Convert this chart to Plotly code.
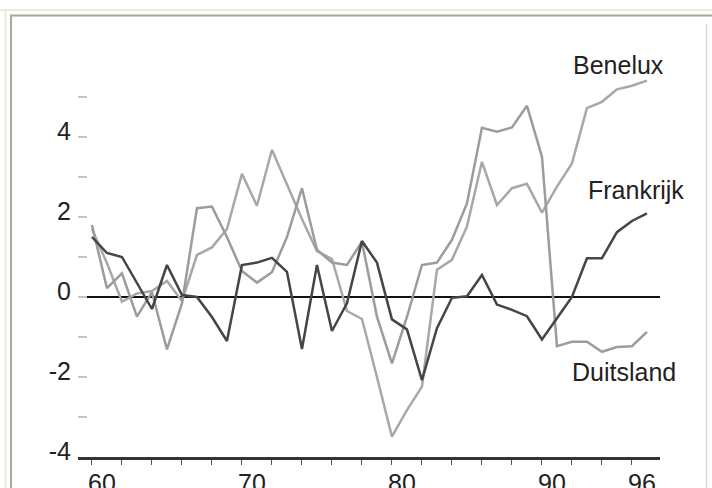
import plotly.graph_objects as go

years = list(range(1960, 1998))

frankrijk = [1.5, 1.1, 1.0, 0.35, -0.3, 0.8, 0.05, 0.0, -0.5, -1.1,
             0.8, 0.86, 0.98, 0.63, -1.3, 0.8, -0.85, -0.16, 1.4, 0.86,
             -0.56, -0.81, -2.08, -0.78, -0.02, 0.02, 0.55, -0.19, -0.32, -0.48,
             -1.06, -0.53, 0.0, 0.97, 0.97, 1.62, 1.9, 2.09]

duitsland = [1.8, 0.22, 0.59, -0.49, 0.12, -1.31, -0.16, 2.22, 2.26, 1.5,
             0.65, 0.36, 0.62, 1.5, 2.72, 1.18, 0.86, 0.8, 1.38, -0.49,
             -1.66, -0.5, 0.8, 0.86, 1.43, 2.34, 4.23, 4.13, 4.24, 4.78,
             3.51, -1.23, -1.12, -1.12, -1.37, -1.25, -1.23, -0.87]

benelux = [1.7, 0.85, -0.12, 0.09, 0.15, 0.4, -0.1, 1.05, 1.24, 1.7,
           3.08, 2.28, 3.68, 2.8, 1.95, 1.15, 0.95, -0.35, -0.55, -2.0,
           -3.49, -2.83, -2.24, 0.68, 0.93, 1.76, 3.38, 2.3, 2.72, 2.83,
           2.11, 2.76, 3.34, 4.72, 4.88, 5.19, 5.28, 5.41]

x_tickvals = list(range(1960, 1997, 2))
x_ticktext = ["60" if v == 1960 else "70" if v == 1970 else "80" if v == 1980
              else "90" if v == 1990 else "96" if v == 1996 else "" for v in x_tickvals]
y_tickvals = list(range(-4, 6))
y_ticktext = [str(v) if v % 2 == 0 else "" for v in y_tickvals]

series_labels = ["Benelux", "Frankrijk", "Duitsland"]
label_x = [1995.07, 1996.27, 1995.47]
label_y = [5.8, 2.68, -1.88]

W, H = 712, 488
L, R, T, B = 78, 52, 57, 31
pw, ph = W - L - R, H - T - B

def px_x(p):
    return (p - L) / pw

def px_y(p):
    return (H - B - p) / ph

FONT = "Liberation Sans, Arial, sans-serif"

fig = go.Figure()
fig.add_trace(go.Scatter(x=years, y=benelux, mode="lines", name="Benelux",
                         line=dict(color="#a8a8a8", width=2.5)))
fig.add_trace(go.Scatter(x=years, y=duitsland, mode="lines", name="Duitsland",
                         line=dict(color="#9c9c9c", width=2.5)))
fig.add_trace(go.Scatter(x=years, y=frankrijk, mode="lines", name="Frankrijk",
                         line=dict(color="#454545", width=2.5)))

for txt, xx, yy in zip(series_labels, label_x, label_y):
    fig.add_annotation(x=xx, y=yy, xref="x", yref="y", text=txt, showarrow=False,
                       font=dict(family=FONT, size=25, color="#222"),
                       xanchor="center", yanchor="middle")

frame = [
    dict(x0=px_x(0), x1=px_x(W), y0=px_y(10), y1=px_y(10), color="#ece8d9", w=2),
    dict(x0=px_x(5.5), x1=px_x(5.5), y0=px_y(10), y1=px_y(H), color="#ece8d9", w=2),
    dict(x0=px_x(10), x1=px_x(W), y0=px_y(15.5), y1=px_y(15.5), color="#aaa69b", w=2),
    dict(x0=px_x(11), x1=px_x(11), y0=px_y(15.5), y1=px_y(H), color="#aaa69b", w=2),
    dict(x0=px_x(706.5), x1=px_x(706.5), y0=px_y(24), y1=px_y(H), color="#dcdcdc", w=1.5),
]
for f in frame:
    fig.add_shape(type="line", xref="paper", yref="paper",
                  x0=f["x0"], x1=f["x1"], y0=f["y0"], y1=f["y1"],
                  line=dict(color=f["color"], width=f["w"]))

fig.update_layout(
    width=W, height=H,
    margin=dict(l=L, r=R, t=T, b=B, pad=0, autoexpand=False),
    paper_bgcolor="white", plot_bgcolor="white",
    showlegend=False,
    font=dict(family=FONT, size=25, color="#222"),
    xaxis=dict(range=[1959.07, 1997.87], tickmode="array", tickvals=x_tickvals,
               ticktext=x_ticktext, ticks="outside", ticklen=5, tickwidth=1,
               tickcolor="#555", showgrid=False, zeroline=False, automargin=False,
               showline=True, linewidth=3, linecolor="#333",
               ticklabelshift=10, ticklabelstandoff=-3,
               tickfont=dict(family=FONT, size=25, color="#222")),
    yaxis=dict(range=[-4, 6], tickmode="array", tickvals=y_tickvals,
               ticktext=y_ticktext, ticks="inside", ticklen=9, tickwidth=1.5,
               tickcolor="#c4c4c4", showgrid=False, showline=False, automargin=False,
               zeroline=True, zerolinecolor="#111", zerolinewidth=2,
               ticklabelshift=-6, ticklabelstandoff=6,
               tickfont=dict(family=FONT, size=25, color="#222")),
)

fig.write_html("out.html", config={"displayModeBar": False},
               post_script="document.body.style.margin='0';document.body.style.overflow='hidden';")
